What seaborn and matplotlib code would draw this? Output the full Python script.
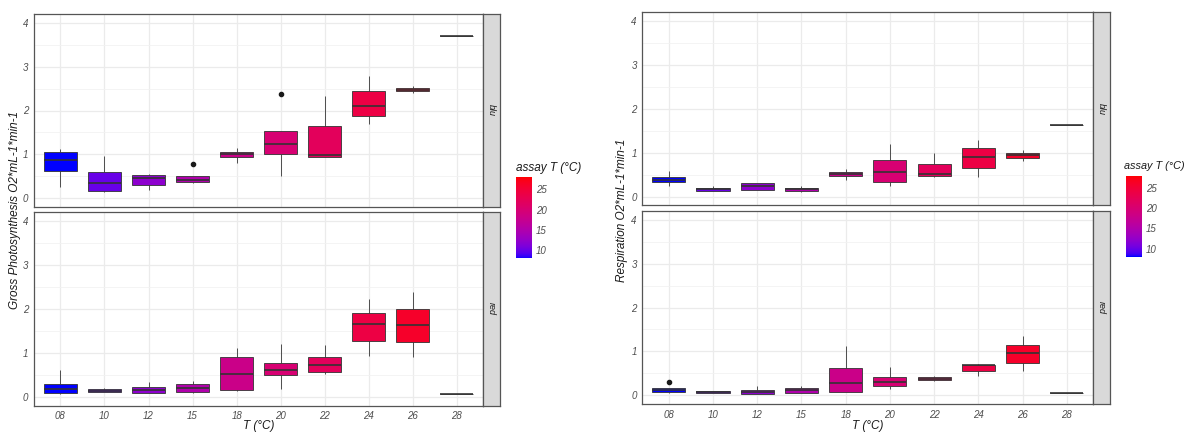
import numpy as np
import pandas as pd
import matplotlib
matplotlib.use("Agg")
import matplotlib.pyplot as plt
from matplotlib.colors import ListedColormap, Normalize
from matplotlib.cm import ScalarMappable
import seaborn as sns

# ---------------- data ----------------
temp_labels = ["08", "10", "12", "15", "18", "20", "22", "24", "26", "28"]
assay_T = [8, 10, 12, 15, 18, 20, 22, 24, 26, 28]
facets = ["blu", "red"]

# Gross photosynthesis, blu
gp_blu_min = [0.26, 0.13, 0.19, 0.34, 0.80, 0.51, 0.93, 1.69, 2.41, 3.71]
gp_blu_q1 = [0.605, 0.15, 0.29, 0.36, 0.94, 1.01, 0.93, 1.88, 2.45, 3.71]
gp_blu_med = [0.87, 0.35, 0.445, 0.41, 1.01, 1.23, 0.98, 2.10, 2.48, 3.71]
gp_blu_q3 = [1.045, 0.59, 0.53, 0.51, 1.06, 1.54, 1.635, 2.45, 2.51, 3.71]
gp_blu_max = [1.12, 0.955, 0.54, 0.51, 1.14, 1.54, 2.33, 2.79, 2.56, 3.71]
gp_blu_out = [None, None, None, 0.78, None, 2.38, None, None, None, None]
# Gross photosynthesis, red
gp_red_min = [0.07, 0.11, 0.08, 0.10, 0.14, 0.175, 0.51, 0.93, 0.90, 0.07]
gp_red_q1 = [0.09, 0.115, 0.09, 0.11, 0.15, 0.49, 0.57, 1.27, 1.25, 0.07]
gp_red_med = [0.17, 0.145, 0.16, 0.205, 0.51, 0.62, 0.715, 1.65, 1.63, 0.07]
gp_red_q3 = [0.305, 0.175, 0.23, 0.29, 0.90, 0.78, 0.90, 1.92, 2.005, 0.07]
gp_red_max = [0.61, 0.20, 0.34, 0.36, 1.12, 1.20, 1.18, 2.22, 2.39, 0.07]
gp_red_out = [None] * 10
# Respiration, blu
rs_blu_min = [0.24, 0.12, 0.15, 0.11, 0.38, 0.23, 0.44, 0.44, 0.82, 1.64]
rs_blu_q1 = [0.335, 0.13, 0.155, 0.13, 0.46, 0.335, 0.47, 0.66, 0.87, 1.64]
rs_blu_med = [0.38, 0.17, 0.23, 0.17, 0.51, 0.56, 0.515, 0.90, 0.95, 1.64]
rs_blu_q3 = [0.45, 0.20, 0.30, 0.20, 0.56, 0.84, 0.74, 1.10, 1.00, 1.64]
rs_blu_max = [0.585, 0.23, 0.31, 0.235, 0.62, 1.19, 1.00, 1.29, 1.06, 1.64]
rs_blu_out = [None] * 10
# Respiration, red
rs_red_min = [0.06, 0.06, 0.02, 0.05, 0.07, 0.15, 0.32, 0.43, 0.55, 0.06]
rs_red_q1 = [0.07, 0.06, 0.03, 0.06, 0.077, 0.205, 0.35, 0.545, 0.735, 0.06]
rs_red_med = [0.11, 0.075, 0.07, 0.12, 0.28, 0.295, 0.38, 0.68, 0.96, 0.06]
rs_red_q3 = [0.16, 0.09, 0.11, 0.16, 0.61, 0.42, 0.41, 0.70, 1.14, 0.06]
rs_red_max = [0.16, 0.09, 0.20, 0.20, 1.13, 0.65, 0.43, 0.72, 1.35, 0.06]
rs_red_out = [0.31, None, None, None, None, None, None, None, None, None]

gp_ylabel = "Gross Photosynthesis O2*mL-1*min-1"
rs_ylabel = "Respiration O2*mL-1*min-1"
xlabel = "T (°C)"
legend_title = "assay T (°C)"


def build_samples(mins, q1s, meds, q3s, maxs, outs):
    rows = []
    for lab, lo, a, m, b, hi, o in zip(temp_labels, mins, q1s, meds, q3s, maxs, outs):
        top = hi if o is None else o
        for v in [lo, a, a, m, m, m, b, hi, top]:
            rows.append({"T": lab, "value": v})
    return pd.DataFrame(rows)


# ---------------- colours (Lab interpolation blue -> red) ----------------
def _to_lin(c):
    c = np.asarray(c, float)
    return np.where(c <= 0.04045, c / 12.92, ((c + 0.055) / 1.055) ** 2.4)


def _from_lin(c):
    c = np.clip(c, 0, 1)
    return np.where(c <= 0.0031308, 12.92 * c, 1.055 * c ** (1 / 2.4) - 0.055)


_M = np.array([[0.4124, 0.3576, 0.1805], [0.2126, 0.7152, 0.0722], [0.0193, 0.1192, 0.9505]])
_WP = np.array([0.95047, 1.0, 1.08883])


def rgb2lab(rgb):
    xyz = _M @ _to_lin(rgb) / _WP
    f = np.where(xyz > 0.008856, np.cbrt(xyz), 7.787 * xyz + 16 / 116)
    return np.array([116 * f[1] - 16, 500 * (f[0] - f[1]), 200 * (f[1] - f[2])])


def lab2rgb(lab):
    L, a, b = lab
    fy = (L + 16) / 116
    fx = fy + a / 500
    fz = fy - b / 200
    f = np.array([fx, fy, fz])
    xyz = np.where(f ** 3 > 0.008856, f ** 3, (f - 16 / 116) / 7.787) * _WP
    lin = np.linalg.solve(_M, xyz)
    return np.clip(_from_lin(lin), 0, 1)


LAB_LO = rgb2lab([0, 0, 1])
LAB_HI = rgb2lab([1, 0, 0])
TMIN, TMAX = 8, 28


def grad(t):
    return tuple(lab2rgb(LAB_LO + (LAB_HI - LAB_LO) * t))


palette = {lab: grad((v - TMIN) / (TMAX - TMIN)) for lab, v in zip(temp_labels, assay_T)}
cmap = ListedColormap([grad(t) for t in np.linspace(0, 1, 256)])

# ---------------- style ----------------
sns.set_style("white")
plt.rcParams["font.family"] = ["Liberation Sans", "DejaVu Sans"]
plt.rcParams["font.style"] = "italic"

W, H = 1184, 432
fig = plt.figure(figsize=(W / 100, H / 100), dpi=100)


def fr(x0, y0, x1, y1):
    return [x0 / W, 1 - y1 / H, (x1 - x0) / W, (y1 - y0) / H]


TXT = "#4D4D4D"


def draw_panel(rect, strip_rect, df, facet_label):
    ax = fig.add_axes(fr(*rect))
    sns.boxplot(data=df, x="T", y="value", hue="T", order=temp_labels, hue_order=temp_labels,
                palette=palette, saturation=1, width=0.75, dodge=False, legend=False, ax=ax,
                linecolor="#333333", linewidth=0.6, whis=1.5,
                flierprops=dict(marker="o", markersize=3, markerfacecolor="#1A1A1A",
                                markeredgecolor="#1A1A1A"),
                medianprops=dict(color="#333333", linewidth=1.2),
                capprops=dict(linewidth=0))
    ax.set_xlim(-0.6, 9.6)
    ax.set_ylim(-0.2, 4.2)
    ax.set_yticks([0, 1, 2, 3, 4])
    ax.set_yticks([0.5, 1.5, 2.5, 3.5], minor=True)
    ax.grid(True, which="major", color="#EBEBEB", linewidth=0.9)
    ax.yaxis.grid(True, which="minor", color="#F2F2F2", linewidth=0.6)
    ax.set_axisbelow(True)
    for s in ax.spines.values():
        s.set_color("#555555")
        s.set_linewidth(0.9)
    ax.tick_params(axis="both", which="major", length=2.5, width=0.6, color="#333333",
                   labelsize=7, labelcolor=TXT, pad=1.5)
    ax.tick_params(axis="y", which="minor", length=0)
    ax.set_xlabel("")
    ax.set_ylabel("")
    sax = fig.add_axes(fr(*strip_rect))
    sax.set_facecolor("#D9D9D9")
    sax.set_xticks([])
    sax.set_yticks([])
    for s in sax.spines.values():
        s.set_color("#555555")
        s.set_linewidth(0.9)
    sax.text(0.5, 0.5, facet_label, rotation=-90, ha="center", va="center",
             fontsize=6.5, color="#1A1A1A", transform=sax.transAxes)
    return ax


def draw_block(x0, x1, xs, tops, bots, datasets, ylabel, ylab_x, cbar_rect, title_xy, title_fs):
    axes = []
    for (y0, y1), df, lab in zip(zip(tops, bots), datasets, facets):
        ax = draw_panel((x0, y0, x1, y1), (x1, y0, xs, y1), df, lab)
        axes.append(ax)
    axes[0].set_xticklabels([])
    axes[0].tick_params(axis="x", length=0)
    xc = (x0 + x1) / 2
    fig.text(xc / W, 1 - 426.5 / H, xlabel, ha="center", va="center", fontsize=8.5, color="#1A1A1A")
    fig.text(ylab_x / W, 1 - 210 / H, ylabel, ha="center", va="center", rotation=90,
             fontsize=8.5, color="#1A1A1A")
    cax = fig.add_axes(fr(*cbar_rect))
    sm = ScalarMappable(norm=Normalize(TMIN, TMAX), cmap=cmap)
    cb = fig.colorbar(sm, cax=cax, ticks=[10, 15, 20, 25])
    cb.outline.set_visible(False)
    cax.tick_params(which="both", left=True, right=True, labelleft=False, labelright=True,
                    direction="in", color="white", length=3, width=0.6,
                    labelsize=7, labelcolor=TXT, pad=3)
    fig.text(title_xy[0] / W, 1 - title_xy[1] / H, legend_title, ha="left", va="center",
             fontsize=title_fs, color="#1A1A1A")


gp_blu = build_samples(gp_blu_min, gp_blu_q1, gp_blu_med, gp_blu_q3, gp_blu_max, gp_blu_out)
gp_red = build_samples(gp_red_min, gp_red_q1, gp_red_med, gp_red_q3, gp_red_max, gp_red_out)
rs_blu = build_samples(rs_blu_min, rs_blu_q1, rs_blu_med, rs_blu_q3, rs_blu_max, rs_blu_out)
rs_red = build_samples(rs_red_min, rs_red_q1, rs_red_med, rs_red_q3, rs_red_max, rs_red_out)

draw_block(34, 483.3, 500.3, [14.3, 212.3], [206.7, 405.7], [gp_blu, gp_red],
           gp_ylabel, 15, (515.7, 177, 532, 258.3), (516, 168), 8.5)
draw_block(642.3, 1093.3, 1110.3, [12.3, 211], [205.3, 404], [rs_blu, rs_red],
           rs_ylabel, 622, (1125.7, 175.7, 1141.7, 256.7), (1124, 166), 7.8)

fig.savefig("out.png", dpi=100, facecolor="white")
